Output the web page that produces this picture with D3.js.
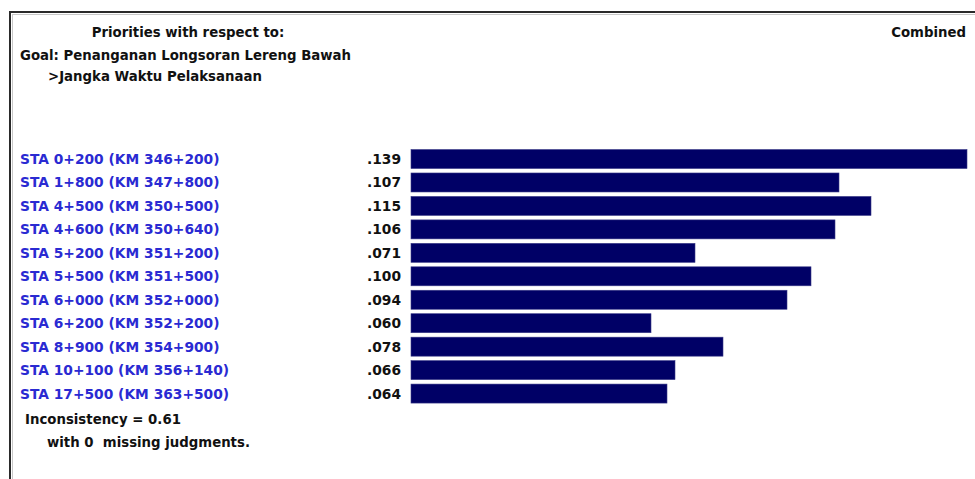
<!DOCTYPE html>
<html>
<head>
<meta charset="utf-8">
<script src="https://cdn.jsdelivr.net/npm/d3@7"></script>
<style>
  html, body { margin: 0; padding: 0; background: #fff; }
  svg { display: block; }
  text { font-family: "DejaVu Sans", sans-serif; font-weight: bold; }
</style>
</head>
<body>
<svg id="chart" width="975" height="479"></svg>
<script>
const categories = [
  "STA 0+200 (KM 346+200)",
  "STA 1+800 (KM 347+800)",
  "STA 4+500 (KM 350+500)",
  "STA 4+600 (KM 350+640)",
  "STA 5+200 (KM 351+200)",
  "STA 5+500 (KM 351+500)",
  "STA 6+000 (KM 352+000)",
  "STA 6+200 (KM 352+200)",
  "STA 8+900 (KM 354+900)",
  "STA 10+100 (KM 356+140)",
  "STA 17+500 (KM 363+500)"
];
const values = [0.139, 0.107, 0.115, 0.106, 0.071, 0.100, 0.094, 0.060, 0.078, 0.066, 0.064];
const valueLabels = [".139", ".107", ".115", ".106", ".071", ".100", ".094", ".060", ".078", ".066", ".064"];
const headerLines = ["Priorities with respect to:", "Goal: Penanganan Longsoran Lereng Bawah", ">Jangka Waktu Pelaksanaan"];
const modeLabel = "Combined";
const footerLines = ["Inconsistency = 0.61", "with 0  missing judgments."];

const svg = d3.select("#chart");

// frame
svg.append("line").attr("x1", 9).attr("x2", 975).attr("y1", 12).attr("y2", 12)
  .attr("stroke", "#2a2a2a").attr("stroke-width", 2);
svg.append("line").attr("x1", 10).attr("x2", 10).attr("y1", 11).attr("y2", 479)
  .attr("stroke", "#2a2a2a").attr("stroke-width", 2);
svg.append("line").attr("x1", 12).attr("x2", 975).attr("y1", 14.5).attr("y2", 14.5)
  .attr("stroke", "#c8c8c8").attr("stroke-width", 1);
svg.append("line").attr("x1", 12.5).attr("x2", 12.5).attr("y1", 14).attr("y2", 479)
  .attr("stroke", "#c8c8c8").attr("stroke-width", 1);

const fs = 13.3;
const lfs = 13.8;

// header
svg.append("text").attr("x", 188).attr("y", 37).attr("text-anchor", "middle")
  .attr("font-size", fs).attr("fill", "#111").text(headerLines[0]);
svg.append("text").attr("x", 20).attr("y", 60)
  .attr("font-size", fs).attr("fill", "#111").text(headerLines[1]);
svg.append("text").attr("x", 48).attr("y", 81)
  .attr("font-size", fs).attr("fill", "#111").text(headerLines[2]);
svg.append("text").attr("x", 966).attr("y", 37).attr("text-anchor", "end")
  .attr("font-size", fs).attr("fill", "#111").text(modeLabel);

// scales
const x = d3.scaleLinear().domain([0, 0.139]).range([411, 967]);
const y = d3.scaleBand().domain(categories).range([147.3, 405.3]).paddingInner(0.19).paddingOuter(0.095);

const rows = svg.append("g").selectAll("g").data(categories).join("g");

rows.append("rect")
  .attr("x", x(0))
  .attr("y", d => y(d))
  .attr("width", (d, i) => x(values[i]) - x(0))
  .attr("height", y.bandwidth())
  .attr("fill", "#000066")
  .attr("stroke", "#3a3a88")
  .attr("stroke-width", 0.6);

rows.append("text")
  .attr("x", 20)
  .attr("y", d => y(d) + y.bandwidth() / 2 + 5)
  .attr("font-size", lfs)
  .attr("fill", "#2a2ad2")
  .text(d => d);

rows.append("text")
  .attr("x", 401)
  .attr("y", d => y(d) + y.bandwidth() / 2 + 5)
  .attr("text-anchor", "end")
  .attr("font-size", lfs)
  .attr("fill", "#111")
  .text((d, i) => valueLabels[i]);

// footer
svg.append("text").attr("x", 25).attr("y", 424)
  .attr("font-size", fs).attr("fill", "#111").text(footerLines[0]);
svg.append("text").attr("x", 47).attr("y", 447).style("white-space", "pre")
  .attr("font-size", fs).attr("fill", "#111").text(footerLines[1]);
</script>
</body>
</html>
